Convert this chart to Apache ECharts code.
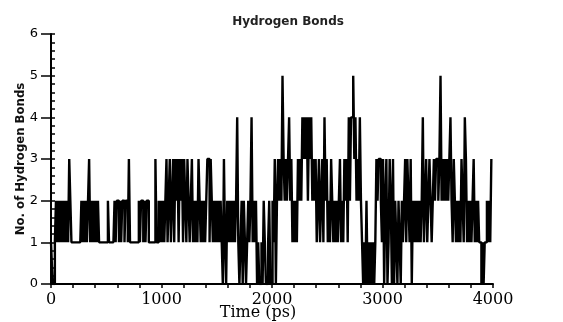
<!DOCTYPE html>
<html>
<head>
<meta charset="utf-8">
<title>Hydrogen Bonds</title>
<script src="https://cdn.jsdelivr.net/npm/echarts@6.0.0/dist/echarts.min.js"></script>
<style>
  html, body { margin: 0; padding: 0; background: #fff; }
  #chart { width: 563px; height: 322px; }
</style>
</head>
<body>
<div id="chart"></div>
<script>
// number of hydrogen bonds, every 10 ps (one row = 100 ps)
const timeStep = 10;
const hbonds = [
  1,1,0,0,1,2,1,2,1,2,
  1,2,1,2,1,2,1,3,2,1,
  1,1,1,1,1,1,1,1,2,1,
  2,1,2,1,2,3,1,2,1,2,
  1,2,1,2,1,1,1,1,1,1,
  1,1,2,1,1,1,1,1,2,1,
  2,2,1,2,1,2,2,1,2,2,
  1,3,1,1,1,1,1,1,1,1,
  2,1,2,2,1,2,1,2,2,1,
  1,1,1,1,1,3,1,1,2,1,
  2,1,2,1,2,3,1,2,3,1,
  2,3,1,3,2,3,1,3,2,3,
  1,3,2,1,3,2,1,2,3,1,
  2,1,2,1,3,2,1,2,1,2,
  1,2,3,3,1,3,2,1,2,1,
  2,1,2,1,2,1,0,3,1,0,
  2,1,2,1,2,1,2,1,2,4,
  1,0,1,2,0,2,1,0,1,2,
  1,2,4,1,2,1,2,0,1,0,
  0,1,0,2,1,0,0,1,2,0,
  0,2,1,3,0,2,3,2,3,2,
  5,3,2,3,2,3,4,2,3,1,
  2,1,2,1,3,2,3,2,4,3,
  4,3,4,2,4,3,4,2,3,2,
  3,1,2,3,1,2,3,1,4,2,
  3,1,2,1,3,2,1,2,1,2,
  1,2,3,1,2,1,3,2,3,1,
  4,2,4,4,5,3,4,2,3,2,
  4,2,1,0,1,0,2,0,1,0,
  1,0,1,0,1,3,2,3,3,2,
  1,3,0,2,3,0,1,3,2,0,
  3,0,2,1,0,2,1,0,2,1,
  2,3,1,3,2,1,3,0,2,1,
  2,1,2,1,2,1,2,4,1,2,
  3,1,2,3,2,1,2,3,2,3,
  3,2,3,5,2,3,2,3,2,3,
  2,3,4,2,1,3,2,1,2,1,
  2,1,3,2,1,4,3,1,2,1,
  2,1,2,3,1,2,1,2,1,1,
  0,1,0,1,1,2,1,2,1,3
];
const xTicks = [0, 1000, 2000, 3000, 4000];
const yTicks = [0, 1, 2, 3, 4, 5, 6];

const points = hbonds.map((v, i) => [i * timeStep, v]);

const chart = echarts.init(document.getElementById('chart'), null, { renderer: 'canvas' });

chart.setOption({
  animation: false,
  backgroundColor: '#fff',
  title: {
    text: 'Hydrogen Bonds',
    left: 283,
    top: 11,
    textAlign: 'center',
    textStyle: { fontFamily: 'DejaVu Sans', fontWeight: 'bold', fontSize: 12, color: '#222' }
  },
  grid: { left: 51, right: 70, top: 34, bottom: 38, containLabel: false, outerBoundsMode: 'none' },
  xAxis: {
    type: 'value',
    min: xTicks[0],
    max: xTicks[xTicks.length - 1],
    interval: 1000,
    name: 'Time (ps)',
    nameLocation: 'middle',
    nameGap: 21,
    nameMoveOverlap: false,
    nameTextStyle: { fontFamily: 'DejaVu Serif', fontSize: 16, color: '#000', padding: [0, 28, 0, 0] },
    axisLine: { lineStyle: { color: '#000', width: 2 } },
    axisTick: { length: 4, lineStyle: { color: '#000', width: 1.5 } },
    minorTick: { show: true, splitNumber: 5, length: 4, lineStyle: { color: '#000', width: 1.5 } },
    axisLabel: {
      fontFamily: 'DejaVu Serif', fontSize: 16, color: '#000', margin: 8,
      formatter: v => String(v)
    },
    splitLine: { show: false }
  },
  yAxis: [
    {
      type: 'value',
      min: yTicks[0],
      max: yTicks[yTicks.length - 1],
      interval: 1,
      name: 'No. of Hydrogen Bonds',
      nameLocation: 'middle',
      nameGap: 24,
      nameMoveOverlap: false,
      nameTextStyle: { fontFamily: 'DejaVu Sans Condensed, Liberation Sans', fontWeight: 'bold', fontSize: 13, color: '#111' },
      axisLine: { lineStyle: { color: '#000', width: 2 } },
      axisTick: { length: 10, lineStyle: { color: '#000', width: 1.5 } },
      axisLabel: { fontFamily: 'DejaVu Sans', fontSize: 13, color: '#000', margin: 13 },
      splitLine: { show: false }
    },
    {
      type: 'value',
      min: yTicks[0],
      max: yTicks[yTicks.length - 1],
      interval: 1,
      position: 'left',
      axisLine: { show: false },
      axisTick: { inside: true, length: 4, lineStyle: { color: '#000', width: 1.5 } },
      minorTick: { show: true, splitNumber: 5, length: 4, lineStyle: { color: '#000', width: 1.5 } },
      axisLabel: { show: false },
      splitLine: { show: false }
    }
  ],
  series: [{
    type: 'line',
    data: points,
    yAxisIndex: 0,
    step: 'middle',
    showSymbol: false,
    sampling: null,
    lineStyle: { color: '#000', width: 2.4 }
  }]
});
</script>
</body>
</html>
